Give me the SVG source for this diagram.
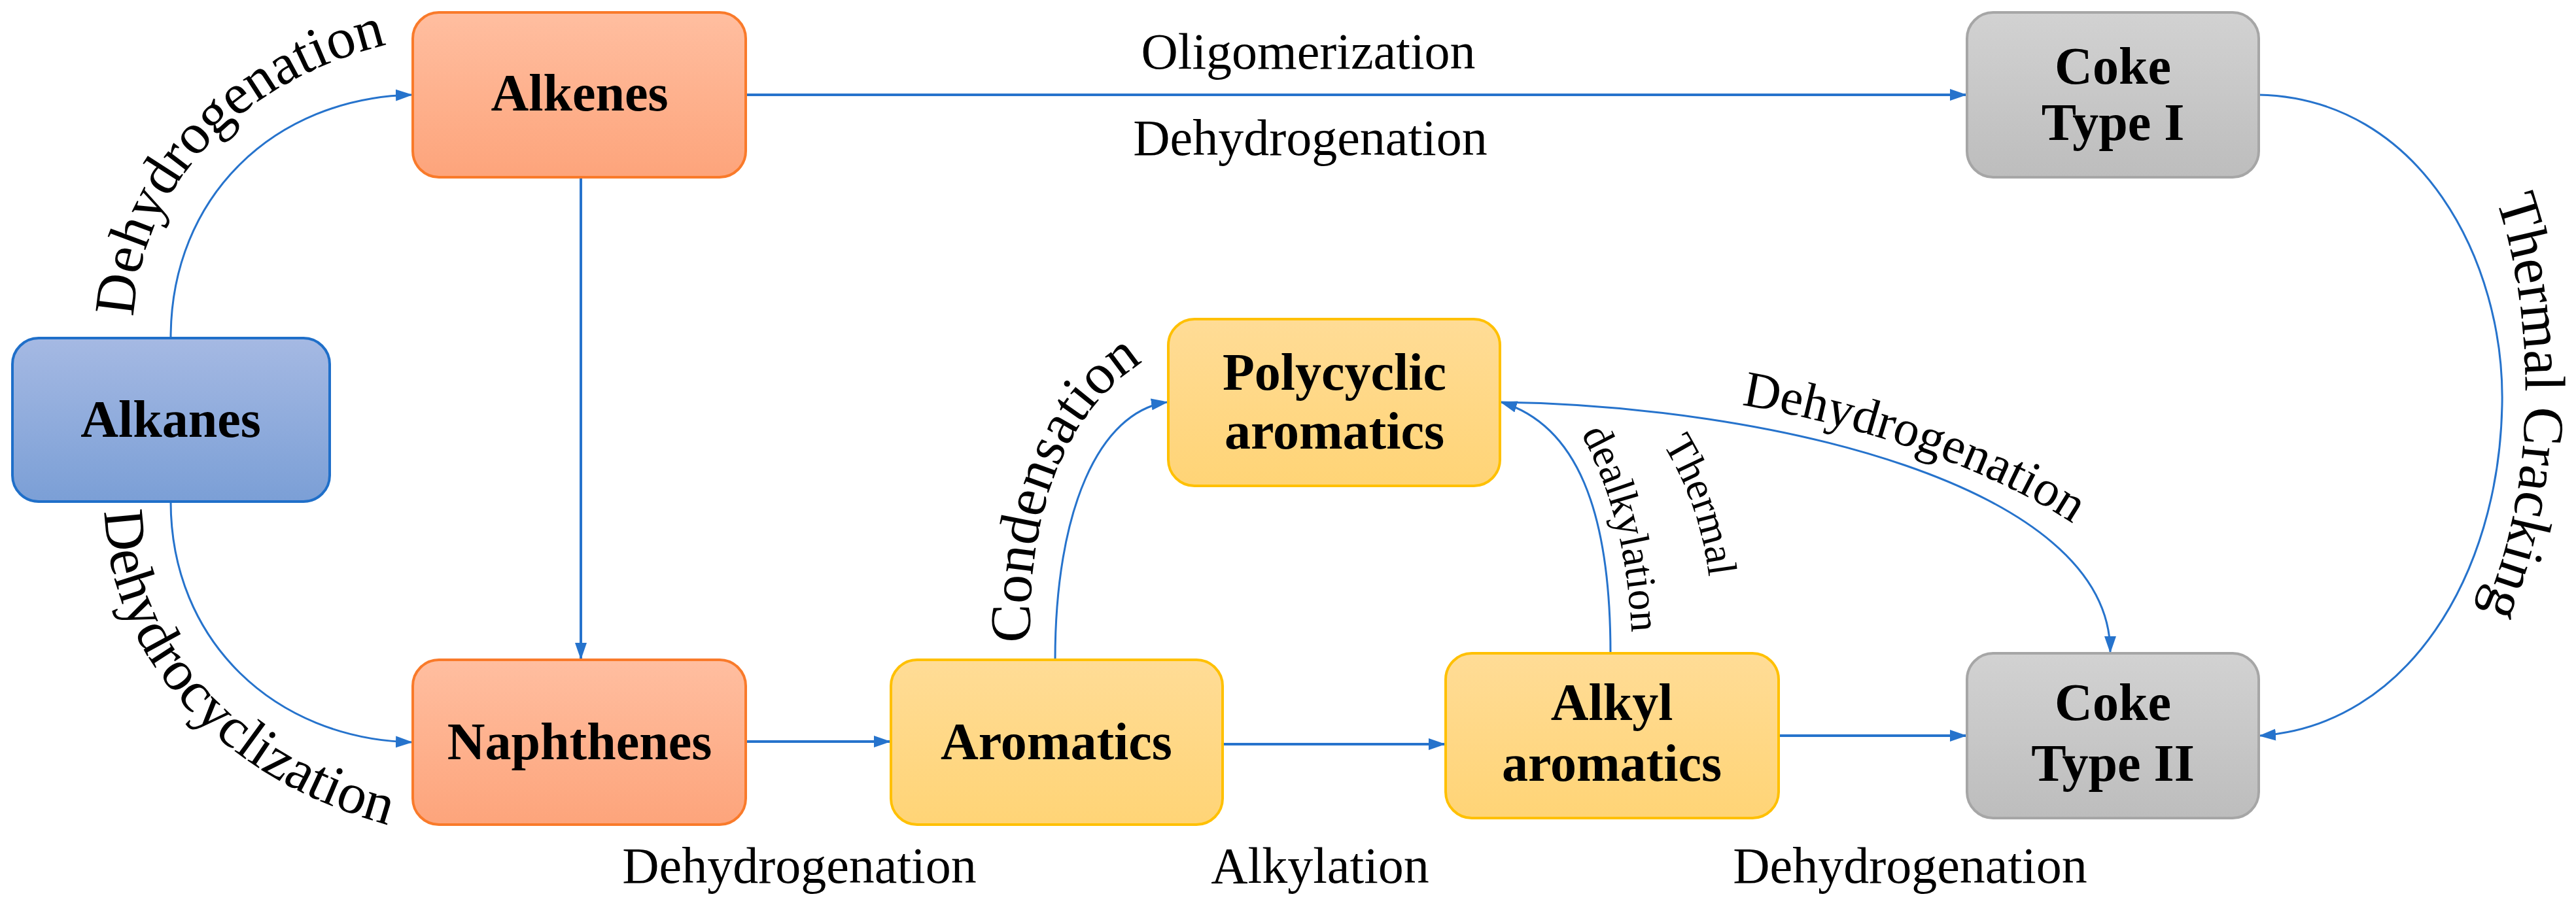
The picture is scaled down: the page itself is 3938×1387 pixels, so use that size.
<svg xmlns="http://www.w3.org/2000/svg" width="3938" height="1387" viewBox="0 0 3938 1387">
<defs>
<linearGradient id="gb" x1="0" y1="0" x2="0" y2="1"><stop offset="0" stop-color="#a5b9e3"/><stop offset="1" stop-color="#7b9fd6"/></linearGradient>
<linearGradient id="go" x1="0" y1="0" x2="0" y2="1"><stop offset="0" stop-color="#ffbea0"/><stop offset="1" stop-color="#fda47b"/></linearGradient>
<linearGradient id="gy" x1="0" y1="0" x2="0" y2="1"><stop offset="0" stop-color="#ffdc96"/><stop offset="1" stop-color="#ffd476"/></linearGradient>
<linearGradient id="gg" x1="0" y1="0" x2="0" y2="1"><stop offset="0" stop-color="#d2d2d2"/><stop offset="1" stop-color="#bdbdbd"/></linearGradient>
<marker id="ah" markerUnits="userSpaceOnUse" markerWidth="26" markerHeight="22" refX="24" refY="11" orient="auto"><path d="M0,2 L26,11 L0,20 Z" fill="#2673cc"/></marker>
<path id="p1" d="M205,478 C215,300 350,130 585,70"/>
<path id="p2" d="M160,780 C165,1000 330,1190 595,1262"/>
<path id="p3" d="M1575,980 C1570,780 1630,630 1745,555"/>
<path id="p4" d="M2408,648 C2463,740 2490,850 2495,985"/>
<path id="p5" d="M2530,660 C2575,730 2605,800 2615,905"/>
<path id="p6" d="M2655,618 C2850,650 3050,720 3175,805"/>
<path id="p7" d="M3812,295 C3880,480 3880,760 3790,945"/>
</defs>
<style>
.n{stroke-width:4}
.nt{font-family:"Liberation Serif",serif;font-weight:bold;font-size:80px;text-anchor:middle;fill:#000}
.el{font-family:"Liberation Serif",serif;font-size:78px;text-anchor:middle;fill:#000}
.big{font-size:88px}
.sm{font-size:64px}
.c{fill:none;stroke:#2673cc;stroke-width:4}
.cc{fill:none;stroke:#2673cc;stroke-width:3}
</style>
<g id="connectors">
<path class="cc" d="M261,517 C261,300 420,150 629,145" marker-end="url(#ah)"/>
<path class="cc" d="M261,767 C261,980 420,1130 629,1135" marker-end="url(#ah)"/>
<path class="c" d="M888,271 L888,1007" marker-end="url(#ah)"/>
<path class="c" d="M1140,145 L3005,145" marker-end="url(#ah)"/>
<path class="c" d="M1140,1134 L1360,1134" marker-end="url(#ah)"/>
<path class="c" d="M1869,1138 L2208,1138" marker-end="url(#ah)"/>
<path class="c" d="M2719,1125 L3005,1125" marker-end="url(#ah)"/>
<path class="cc" d="M1613,1009 C1613,780 1680,630 1784,615" marker-end="url(#ah)"/>
<path class="cc" d="M2462,999 C2462,780 2410,650 2295,615" marker-end="url(#ah)"/>
<path class="cc" d="M2293,615 C2700,620 3226,740 3226,997" marker-end="url(#ah)"/>
<path class="cc" d="M3453,145 C3700,150 3830,400 3825,620 C3820,880 3680,1110 3455,1125" marker-end="url(#ah)"/>
</g>
<g id="labels">
<text class="el big"><textPath href="#p1" startOffset="50%">Dehydrogenation</textPath></text>
<text class="el big"><textPath href="#p2" startOffset="50%">Dehydrocyclization</textPath></text>
<text class="el big"><textPath href="#p3" startOffset="50%">Condensation</textPath></text>
<text class="el sm"><textPath href="#p4" startOffset="50%">dealkylation</textPath></text>
<text class="el sm"><textPath href="#p5" startOffset="50%">Thermal</textPath></text>
<text class="el"><textPath href="#p6" startOffset="50%">Dehydrogenation</textPath></text>
<text class="el big"><textPath href="#p7" startOffset="50%">Thermal Cracking</textPath></text>
<text class="el" x="2000" y="105">Oligomerization</text>
<text class="el" x="2003" y="237">Dehydrogenation</text>
<text class="el" x="1222" y="1350">Dehydrogenation</text>
<text class="el" x="2018" y="1350">Alkylation</text>
<text class="el" x="2920" y="1350">Dehydrogenation</text>
</g>
<g id="alkanes"><rect class="n" x="19" y="517" width="485" height="250" rx="40" fill="url(#gb)" stroke="#1f6fc9"/><text class="nt" x="261" y="668">Alkanes</text></g>
<g id="alkenes"><rect class="n" x="631" y="19" width="509" height="252" rx="40" fill="url(#go)" stroke="#f97a2a"/><text class="nt" x="886" y="169">Alkenes</text></g>
<g id="naphthenes"><rect class="n" x="631" y="1009" width="509" height="252" rx="40" fill="url(#go)" stroke="#f97a2a"/><text class="nt" x="886" y="1161">Naphthenes</text></g>
<g id="aromatics"><rect class="n" x="1362" y="1009" width="507" height="252" rx="40" fill="url(#gy)" stroke="#ffc000"/><text class="nt" x="1615" y="1161">Aromatics</text></g>
<g id="polycyclic"><rect class="n" x="1786" y="488" width="507" height="255" rx="40" fill="url(#gy)" stroke="#ffc000"/><text class="nt" x="2040" y="596">Polycyclic</text><text class="nt" x="2040" y="686">aromatics</text></g>
<g id="alkyl"><rect class="n" x="2210" y="999" width="509" height="252" rx="40" fill="url(#gy)" stroke="#ffc000"/><text class="nt" x="2464" y="1101">Alkyl</text><text class="nt" x="2464" y="1194">aromatics</text></g>
<g id="coke1"><rect class="n" x="3007" y="19" width="446" height="252" rx="40" fill="url(#gg)" stroke="#a6a6a6"/><text class="nt" x="3230" y="128">Coke</text><text class="nt" x="3230" y="214">Type I</text></g>
<g id="coke2"><rect class="n" x="3007" y="999" width="446" height="252" rx="40" fill="url(#gg)" stroke="#a6a6a6"/><text class="nt" x="3230" y="1101">Coke</text><text class="nt" x="3230" y="1194">Type II</text></g>
</svg>
